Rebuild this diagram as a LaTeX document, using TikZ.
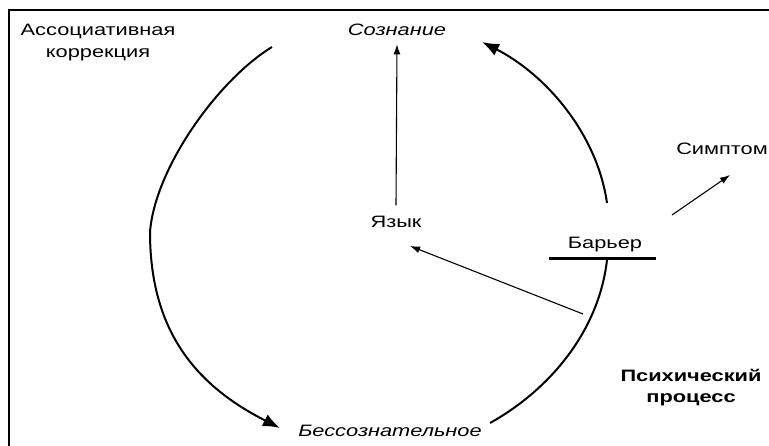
\documentclass[tikz,border=0pt]{standalone}
\usepackage{fontspec}
\setmainfont[FakeStretch=1.32]{Liberation Sans}
\usetikzlibrary{arrows.meta}
\begin{document}
\begin{tikzpicture}[x=1pt,y=-1pt,
  txt/.style={inner sep=0pt, font=\fontsize{16.5}{21.5}\selectfont},
  arcline/.style={line width=2pt},
  bigtip/.style={-{Latex[length=17pt,width=13pt]}},
  thinarrow/.style={line width=1.1pt,-{Latex[length=10pt,width=7pt]}}]
\useasboundingbox (0,0) rectangle (769,446);
\draw[line width=2.5pt] (769,10) -- (9,10) -- (9,446);
% nodes
\node[txt,anchor=base] (cons) at (397,36) {\itshape Сознание};
\node[txt,anchor=base] (uncons) at (390,437) {\itshape Бессознательное};
\node[txt,anchor=base] (lang) at (396,228) {Язык};
\node[txt,anchor=base] (barrier) at (605,249) {Барьер};
\node[txt,anchor=base] (sympt) at (722,155) {Симптом};
\node[txt,align=center,anchor=north] (assoc) at (98,24) {Ассоциативная\\коррекция};
\node[txt,align=center,anchor=north,font=\fontsize{16.5}{21.5}\selectfont\bfseries] (proc) at (691,369) {Психический\\процесс};
% coordinates on the cycle
\coordinate (ru0) at (607,203);
\coordinate (ru1) at (482,42);
\coordinate (rl0) at (607,260);
\coordinate (rl1) at (490,423);
\coordinate (lu0) at (272,47);
\coordinate (lk) at (150,232);
\coordinate (ll1) at (280,428);
\coordinate (src) at (583,314);
\coordinate (langtip) at (410,246);
\coordinate (s0) at (672,215);
\coordinate (s1) at (730,175);
\coordinate (b0) at (549,259);
\coordinate (b1) at (656,259);
% cycle arcs
\draw[arcline,bigtip] (ru0) .. controls (597,133) and (545,74) .. (ru1);
\draw[arcline] (rl0) .. controls (599,330) and (551,389) .. (rl1);
\draw[arcline] (lu0) .. controls (218,80) and (155,168) .. (lk);
\draw[arcline,bigtip] (lk) .. controls (150,330) and (195,385) .. (ll1);
% barrier
\draw[line width=3pt] (b0) -- (b1);
% straight arrows
\draw[thinarrow] ([yshift=11pt]lang.north) -- ([yshift=-8pt]cons.south);
\draw[thinarrow] (src) -- (langtip);
\draw[thinarrow] (s0) -- (s1);
\end{tikzpicture}
\end{document}
